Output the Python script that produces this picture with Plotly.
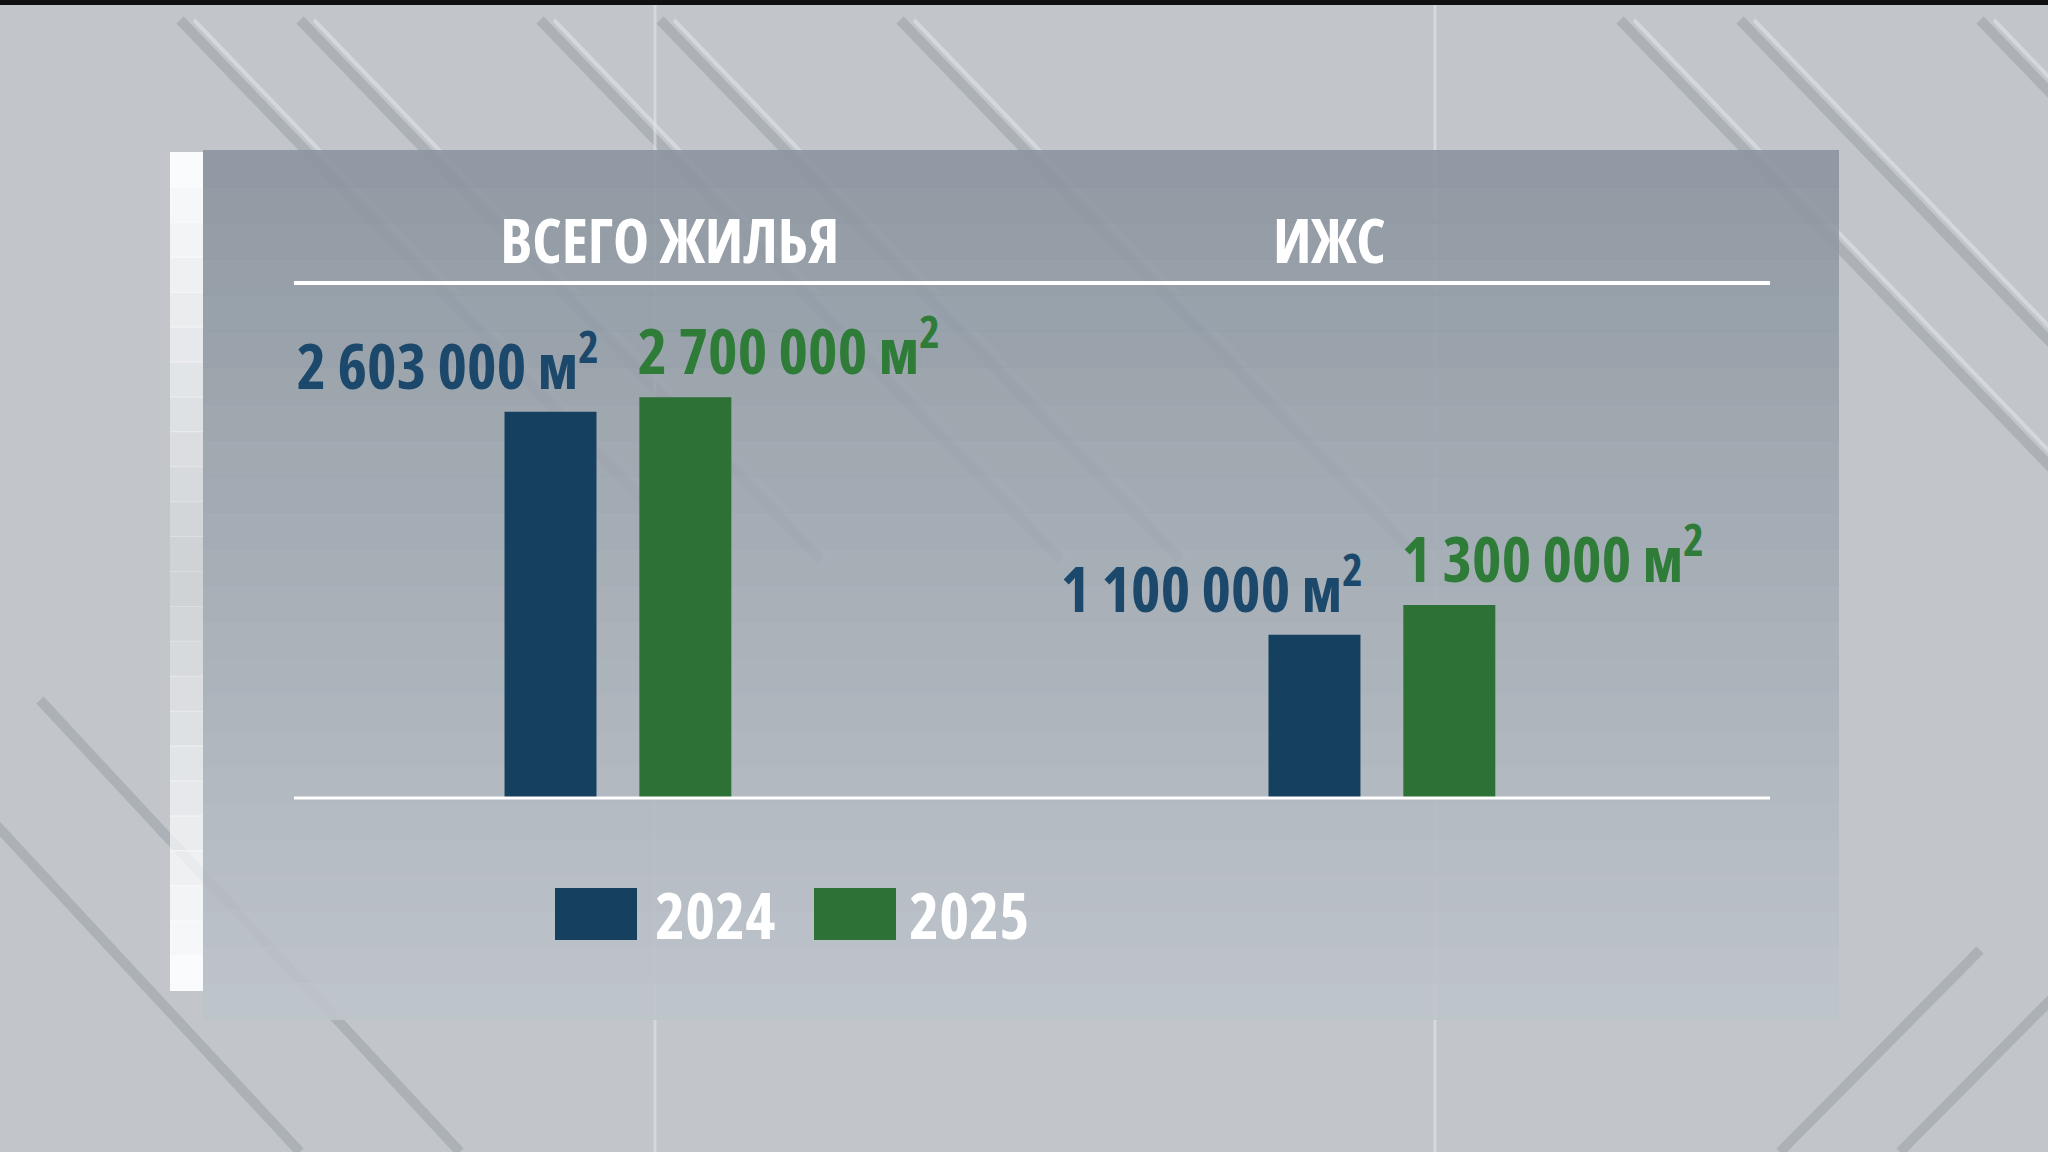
import plotly.graph_objects as go

# data
categories = ["ВСЕГО ЖИЛЬЯ", "ИЖС"]
years = ["2024", "2025"]
values_2024 = [2603000, 1100000]
values_2025 = [2700000, 1300000]

BLUE = "#15405f"
GREEN = "#2d7136"
BLUE_TXT = "#1b486b"
GREEN_TXT = "#2f7c39"
FONT = "Open Sans"

W, H = 2048, 1152
L, R, T, B = 294, 278, 283, 354
PW, PH = W - L - R, H - T - B


def px(x):
    return (x - L) / PW


def py(y):
    return (H - B - y) / PH


def fmt(v):
    return f"{v:,}".replace(",", " ") + " м<sup>2</sup>"


def tfont(size, color):
    return dict(family=FONT, size=size, color=color, weight=700)


fig = go.Figure()
series = [values_2024, values_2025]
colors = [BLUE, GREEN]
for year, vals, col in zip(years, series, colors):
    fig.add_trace(go.Bar(x=categories, y=vals, name=year, marker=dict(color=col, line=dict(width=0))))

shapes = []
# background stripes (decor)
for x0 in [180, 300, 540, 660, 900, 1620, 1740, 1980]:
    shapes.append(dict(type="line", xref="paper", yref="paper", x0=px(x0), y0=py(20), x1=px(x0 + 520), y1=py(560),
                       line=dict(color="rgba(120,128,136,0.3)", width=10), layer="below"))
    shapes.append(dict(type="line", xref="paper", yref="paper", x0=px(x0 + 14), y0=py(20), x1=px(x0 + 534), y1=py(560),
                       line=dict(color="rgba(235,238,241,0.45)", width=4), layer="below"))
for x0 in [-120, 40]:
    shapes.append(dict(type="line", xref="paper", yref="paper", x0=px(x0), y0=py(700), x1=px(x0 + 420), y1=py(1152),
                       line=dict(color="rgba(120,128,136,0.3)", width=10), layer="below"))
for x0 in [1900, 1780]:
    shapes.append(dict(type="line", xref="paper", yref="paper", x0=px(x0), y0=py(1152), x1=px(x0 + 200), y1=py(950),
                       line=dict(color="rgba(120,128,136,0.3)", width=10), layer="below"))
for xv in [655, 1435]:
    shapes.append(dict(type="line", xref="paper", yref="paper", x0=px(xv), y0=py(0), x1=px(xv), y1=py(1152),
                       line=dict(color="rgba(225,228,231,0.6)", width=3), layer="below"))
shapes.append(dict(type="rect", xref="paper", yref="paper", x0=px(0), y0=py(0), x1=px(W), y1=py(5),
                   fillcolor="#111111", line=dict(width=0), layer="below"))

# panel with vertical gradient
n = 24
top_c = (140, 149, 160)
bot_c = (190, 196, 202)
y_top, y_bot = 150, 1019
for i in range(n):
    f = i / (n - 1)
    c = tuple(int(a + (b - a) * f) for a, b in zip(top_c, bot_c))
    ya = y_top + (y_bot - y_top) * i / n
    yb = y_top + (y_bot - y_top) * (i + 1) / n + 1
    shapes.append(dict(type="rect", xref="paper", yref="paper", x0=px(203), x1=px(1839), y0=py(ya), y1=py(yb),
                       fillcolor="rgba(%d,%d,%d,0.9)" % c, line=dict(width=0), layer="below"))
# white left edge
for i in range(n):
    f = i / (n - 1)
    a = 1.0 - min(f, 1 - f) * 1.6
    ya = 152 + (990 - 152) * i / n
    yb = 152 + (990 - 152) * (i + 1) / n + 1
    shapes.append(dict(type="rect", xref="paper", yref="paper", x0=px(170), x1=px(203), y0=py(ya), y1=py(yb),
                       fillcolor="rgba(250,251,252,%.2f)" % max(a, 0.25), line=dict(width=0), layer="below"))

# header and base lines
shapes.append(dict(type="line", xref="paper", yref="paper", x0=0, x1=1, y0=1, y1=1, line=dict(color="white", width=4)))
shapes.append(dict(type="line", xref="paper", yref="paper", x0=0, x1=1, y0=0, y1=0, line=dict(color="white", width=3)))

annotations = []
# headers
for cat, shift in zip(categories, [52, -52]):
    annotations.append(dict(x=cat, y=1, xref="x", yref="paper", xshift=shift, yshift=0, text=cat, showarrow=False,
                            xanchor="center", yanchor="bottom", font=tfont(61, "white")))
# value labels
for cat, v in zip(categories, values_2024):
    annotations.append(dict(x=cat, y=v, xref="x", yref="y", xshift=22, yshift=3, text=fmt(v), showarrow=False,
                            xanchor="right", yanchor="bottom", font=tfont(63, BLUE_TXT)))
for cat, v in zip(categories, values_2025):
    annotations.append(dict(x=cat, y=v, xref="x", yref="y", xshift=-21, yshift=3, text=fmt(v), showarrow=False,
                            xanchor="left", yanchor="bottom", font=tfont(63, GREEN_TXT)))

# legend drawn by hand (big swatches)
leg_x = [555, 814]
leg_gap = [85, 80]
for year, col, lx, g in zip(years, colors, leg_x, leg_gap):
    shapes.append(dict(type="rect", xref="paper", yref="paper", x0=px(lx), x1=px(lx + 82), y0=py(888), y1=py(940),
                       fillcolor=col, line=dict(width=0)))
    annotations.append(dict(x=px(lx + g), y=py(914), xref="paper", yref="paper", text=year, showarrow=False,
                            xanchor="left", yanchor="middle", font=tfont(64, "white")))

fig.update_layout(
    width=W, height=H,
    margin=dict(l=L, r=R, t=T, b=B),
    paper_bgcolor="#c2c6ca",
    plot_bgcolor="rgba(0,0,0,0)",
    barmode="group",
    bargap=0.647,
    bargroupgap=0.318,
    showlegend=False,
    xaxis=dict(range=[-0.424, 1.508], showticklabels=False, showgrid=False, zeroline=False, showline=False),
    yaxis=dict(range=[0, 3470000], showticklabels=False, showgrid=False, zeroline=False, showline=False),
    shapes=shapes,
    annotations=annotations,
    font=dict(family=FONT),
)

# condensed face, like the TV graphic
css = "document.body.style.margin='0';" \
      "var s=document.createElement('style');" \
      "s.textContent='.annotation-text{font-stretch:75% !important;}';" \
      "document.head.appendChild(s);"
fig.write_html("out.html", post_script=css, config={"displayModeBar": False})
